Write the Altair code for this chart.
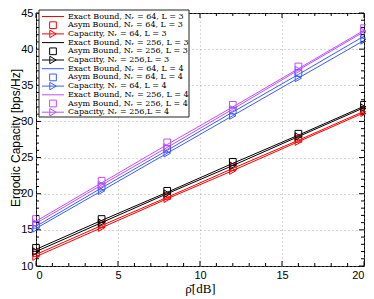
import altair as alt
import pandas as pd

# ---- data ----
snr_db = [0, 4, 8, 12, 16, 20]

series_names = ["Nr64_L3", "Nr256_L3", "Nr64_L4", "Nr256_L4"]
series_colors = ["#ff0000", "#000000", "#3a5cff", "#bf4dff"]

exact_bound = {
    "Nr64_L3": [11.6, 15.6, 19.5, 23.5, 27.4, 31.4],
    "Nr256_L3": [12.3, 16.3, 20.2, 24.2, 28.1, 32.1],
    "Nr64_L4": [15.5, 20.8, 26.0, 31.3, 36.5, 41.8],
    "Nr256_L4": [16.2, 21.5, 26.8, 32.0, 37.3, 42.6],
}
asym_bound = {
    "Nr64_L3": [11.8, 15.8, 19.7, 23.7, 27.6, 31.6],
    "Nr256_L3": [12.5, 16.5, 20.4, 24.4, 28.3, 32.3],
    "Nr64_L4": [15.7, 21.0, 26.2, 31.5, 36.7, 42.0],
    "Nr256_L4": [16.5, 21.8, 27.1, 32.3, 37.6, 42.9],
}
capacity = {
    "Nr64_L3": [11.3, 15.3, 19.3, 23.2, 27.2, 31.2],
    "Nr256_L3": [12.0, 16.0, 20.0, 23.9, 27.9, 31.9],
    "Nr64_L4": [15.2, 20.4, 25.6, 30.8, 36.0, 41.2],
    "Nr256_L4": [15.9, 21.2, 26.4, 31.7, 37.1, 42.4],
}

legend_labels = [
    "Exact Bound, Nᵣ = 64, L = 3",
    "Asym Bound, Nᵣ = 64, L = 3",
    "Capacity, Nᵣ = 64, L = 3",
    "Exact Bound, Nᵣ = 256, L = 3",
    "Asym Bound, Nᵣ = 256, L = 3",
    "Capacity, Nᵣ = 256,L = 3",
    "Exact Bound, Nᵣ = 64, L = 4",
    "Asym Bound, Nᵣ = 64, L = 4",
    "Capacity, Nᵣ = 64, L = 4",
    "Exact Bound, Nᵣ = 256, L = 4",
    "Asym Bound, Nᵣ = 256, L = 4",
    "Capacity, Nᵣ = 256,L = 4",
]
legend_kinds = ["exact", "asym", "cap"] * 4
legend_series = [s for s in series_names for _ in range(3)]

x_major = [0, 5, 10, 15, 20]
x_minor = [t for t in range(0, 21) if t % 5 != 0]
y_major = [10, 15, 20, 25, 30, 35, 40, 45]
y_minor = [t for t in range(10, 46) if t % 5 != 0]

# ---- build tables ----
rows = []
for s in series_names:
    for i, x in enumerate(snr_db):
        rows.append({"series": s, "x": x, "kind": "exact", "y": exact_bound[s][i]})
        rows.append({"series": s, "x": x, "kind": "asym", "y": asym_bound[s][i]})
        rows.append({"series": s, "x": x, "kind": "cap", "y": capacity[s][i]})
df = pd.DataFrame(rows)

leg = pd.DataFrame({
    "label": legend_labels,
    "kind": legend_kinds,
    "series": legend_series,
    "row": list(range(len(legend_labels))),
})

W, H = 328, 253
xs = alt.Scale(domain=[0, 20], nice=False)
ys = alt.Scale(domain=[10, 45], nice=False)
color = alt.Color("series:N", scale=alt.Scale(domain=series_names, range=series_colors), legend=None)
stroke = alt.Stroke("series:N", scale=alt.Scale(domain=series_names, range=series_colors), legend=None)

xaxis = alt.Axis(values=x_major, ticks=False, domain=False, grid=True, labelOverlap=False,
                 gridDash=[1, 3], gridColor="#999999", gridWidth=0.8,
                 labelFont="Liberation Sans", labelFontSize=11, labelColor="#000",
                 labelPadding=3, title="ρ̄[dB]", titleFont="Liberation Serif",
                 titleFontSize=13, titleFontWeight="normal", titleColor="#000",
                 titleX=W / 2, titleY=22, titleAlign="center", titleBaseline="middle")
yaxis = alt.Axis(values=y_major, ticks=False, domain=False, grid=True, labelOverlap=False,
                 gridDash=[1, 3], gridColor="#999999", gridWidth=0.8,
                 labelFont="Liberation Sans", labelFontSize=11, labelColor="#000",
                 labelPadding=3, title="Ergodic Capacity [bps/Hz]", titleFont="Liberation Sans",
                 titleFontSize=12, titleFontWeight="normal", titleColor="#000",
                 titleX=-21, titleY=H / 2 - 2, titleAngle=270, titleAlign="center",
                 titleBaseline="middle")

X = lambda f: alt.X(f, scale=xs, axis=xaxis)
Y = lambda f: alt.Y(f, scale=ys, axis=yaxis)

base = alt.Chart(df)
lines_exact = base.transform_filter("datum.kind == 'exact'").mark_line(strokeWidth=1, clip=True).encode(
    x=X("x:Q"), y=Y("y:Q"), color=color)
lines_cap = base.transform_filter("datum.kind == 'cap'").mark_line(strokeWidth=1, clip=True).encode(
    x=X("x:Q"), y=Y("y:Q"), color=color)
pts_asym = base.transform_filter("datum.kind == 'asym'").mark_point(
    shape="square", size=45, filled=False, strokeWidth=1, opacity=1).encode(
    x=X("x:Q"), y=Y("y:Q"), stroke=stroke)
pts_cap = base.transform_filter("datum.kind == 'cap'").mark_point(
    shape="triangle-right", size=55, filled=False, strokeWidth=1, opacity=1).encode(
    x=X("x:Q"), y=Y("y:Q"), stroke=stroke)

# inward ticks on all four sides, drawn as custom path symbols
def xticks(vals, size, ypos, path):
    return alt.Chart(pd.DataFrame({"x": vals})).mark_point(
        shape=path, size=size, filled=False, stroke="#000", strokeWidth=1, opacity=1).encode(
        x=X("x:Q"), y=alt.value(ypos))

def yticks(vals, size, xpos, path):
    return alt.Chart(pd.DataFrame({"y": vals})).mark_point(
        shape=path, size=size, filled=False, stroke="#000", strokeWidth=1, opacity=1).encode(
        y=Y("y:Q"), x=alt.value(xpos))

MAJ, MIN = 100, 36
ticks = [
    xticks(x_major, MAJ, H, "M0,0V-1"), xticks(x_minor, MIN, H, "M0,0V-1"),
    xticks(x_major, MAJ, 0, "M0,0V1"), xticks(x_minor, MIN, 0, "M0,0V1"),
    yticks(y_major, MAJ, 0, "M0,0H1"), yticks(y_minor, MIN, 0, "M0,0H1"),
    yticks(y_major, MAJ, W, "M0,0H-1"), yticks(y_minor, MIN, W, "M0,0H-1"),
]

# legend
box = alt.Chart(pd.DataFrame({"a": [0]})).mark_rect(fill="white", stroke="#222", strokeWidth=1).encode(
    x=alt.value(3), x2=alt.value(153), y=alt.value(-3), y2=alt.value(104))
legbase = alt.Chart(leg).transform_calculate(py="3.5 + 8.7 * datum.row")
leg_lines = legbase.transform_filter("datum.kind != 'asym'").mark_rule(strokeWidth=1).encode(
    x=alt.value(6), x2=alt.value(28), y=alt.Y("py:Q", scale=None), color=color)
leg_sq = legbase.transform_filter("datum.kind == 'asym'").mark_point(
    shape="square", size=45, filled=False, strokeWidth=1, opacity=1).encode(
    x=alt.value(17), y=alt.Y("py:Q", scale=None), stroke=stroke)
leg_tri = legbase.transform_filter("datum.kind == 'cap'").mark_point(
    shape="triangle-right", size=55, filled=False, strokeWidth=1, opacity=1).encode(
    x=alt.value(17), y=alt.Y("py:Q", scale=None), stroke=stroke)
leg_text = legbase.mark_text(align="left", baseline="middle", font="DejaVu Serif",
                             fontSize=8, color="#000").encode(
    x=alt.value(32), y=alt.Y("py:Q", scale=None), text="label:N")

chart = alt.layer(
    lines_exact, lines_cap, pts_asym, pts_cap, *ticks,
    box, leg_lines, leg_sq, leg_tri, leg_text,
).properties(
    width=W, height=H,
    autosize=alt.AutoSizeParams(type="none"),
    padding={"left": 28, "top": 5, "right": 2, "bottom": 31},
    background="white",
).configure_view(stroke="#000", strokeWidth=1)

chart.save("out.html", embed_options={"renderer": "svg", "actions": False})
